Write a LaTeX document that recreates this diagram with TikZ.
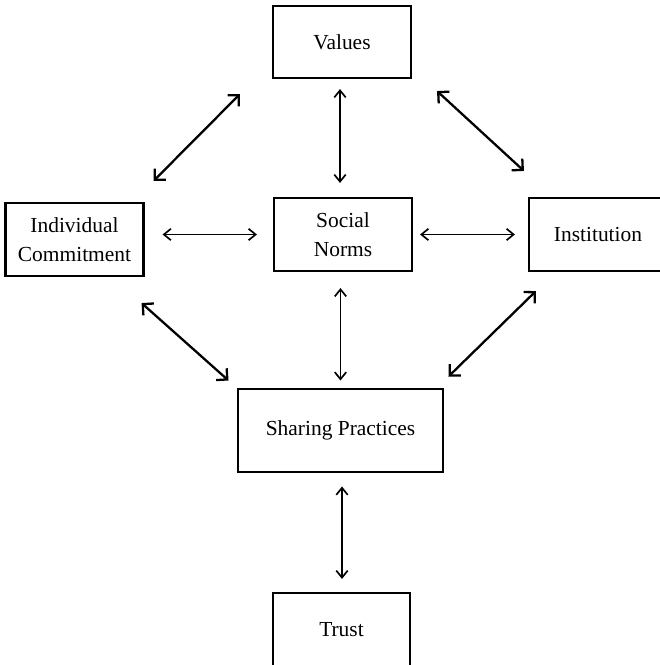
\documentclass[tikz,border=0pt]{standalone}
\usepackage{fontspec}
\setmainfont{Liberation Serif}
\usetikzlibrary{arrows.meta}

\begin{document}
\begin{tikzpicture}[
        box/.style={draw, line width=1.2pt, align=center, inner sep=0pt,
            minimum width=2.76cm, minimum height=1.46cm,
            font=\fontsize{12.2}{16.5}\selectfont},
        link/.style={{Straight Barb[length=4pt,width=6.5pt]}-{Straight Barb[length=4pt,width=6.5pt]}, line width=0.95pt},
        diag/.style={{Straight Barb[length=4.5pt,width=9pt]}-{Straight Barb[length=4.5pt,width=9pt]}, line width=1.3pt}
    ]
        \useasboundingbox (0,0) rectangle (13.18,13.3);

        % Draw the boxes
        \node[box, minimum height=1.44cm] (val) at (6.84, 12.46) {Values};
        \node[box] (ic) at (1.49, 8.51) {Individual\\Commitment};
        \node[box] (sn) at (6.86, 8.61) {Social\\Norms};
        \node[box] (inst) at (11.96, 8.61) {Institution};
        \node[box, line width=1.7pt, minimum width=4.1cm, minimum height=1.66cm] (sp) at (6.81, 4.69) {Sharing Practices};
        \node[box, minimum width=2.74cm, minimum height=1.48cm] (trust) at (6.83, 0.70) {Trust};

        % Straight arrows
        \draw[link, shorten <=0.2cm, shorten >=0.28cm] ([xshift=-0.04cm]val.south) -- ([xshift=-0.04cm]val.south |- sn.north);
        \draw[link, shorten <=0.36cm, shorten >=0.32cm] (sn.west -| ic.east) -- (sn.west);
        \draw[link, shorten <=0.14cm, shorten >=0.26cm] (sn.east) -- (inst.west);
        \draw[link, shorten <=0.32cm, shorten >=0.14cm] (sp.north |- sn.south) -- (sp.north);
        \draw[link, shorten <=0.26cm, shorten >=0.26cm] ([xshift=0.03cm]sp.south) -- ([xshift=0.03cm]sp.south |- trust.north);

        % Diagonal arrows
        \draw[diag] ([shift={(-0.64,-0.3)}]val.south west) -- ([shift={(0.18,0.42)}]ic.north east);
        \draw[diag] ([shift={(0.5,-0.24)}]val.south east) -- ([shift={(-0.08,0.52)}]inst.north west);
        \draw[diag] ([shift={(-0.06,-0.52)}]ic.south east) -- ([shift={(-0.16,0.14)}]sp.north west);
        \draw[diag] ([shift={(0.16,-0.38)}]inst.south west) -- ([shift={(0.08,0.22)}]sp.north east);

    \end{tikzpicture}
\end{document}
